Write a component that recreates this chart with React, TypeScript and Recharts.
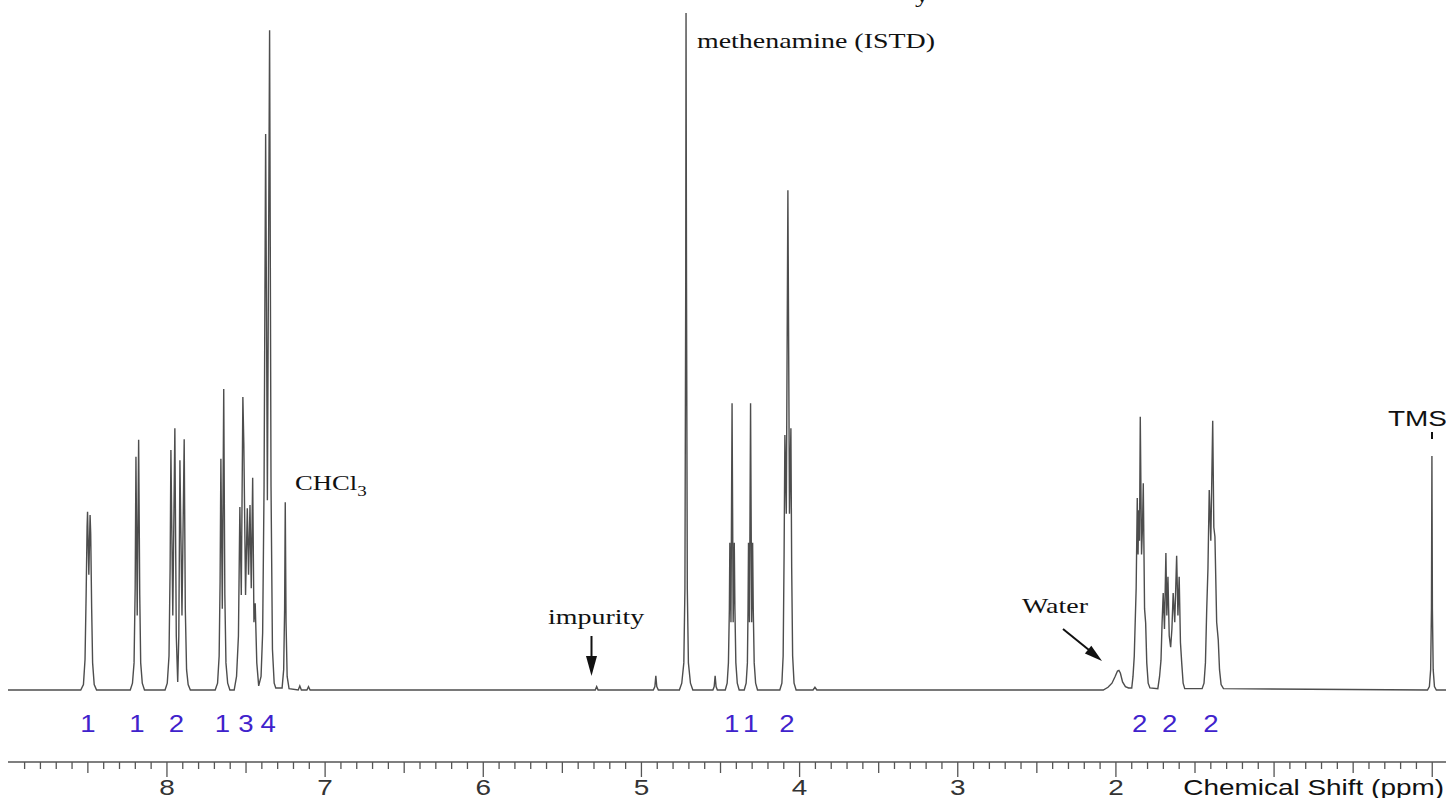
import React from 'react';
import { ComposedChart, Line, Scatter, XAxis, YAxis } from 'recharts';

type Pt = [number, number];

// ---- spectrum points [ppm, intensity] ----
const baselineStart: Pt[] = [[9.005, 0], [8.62, 0]];

const peak850: Pt[] = [
  [8.545, 0], [8.528, 0.8], [8.518, 4.5], [8.511, 14], [8.505, 24], [8.502, 26.3],
  [8.494, 17], [8.486, 25.8], [8.482, 23], [8.476, 12], [8.47, 4], [8.46, 0.8], [8.445, 0],
];

const peak819: Pt[] = [
  [8.232, 0], [8.218, 1], [8.208, 4], [8.201, 15], [8.196, 34.4], [8.188, 11],
  [8.179, 36.9], [8.172, 14], [8.166, 4], [8.156, 1], [8.142, 0],
];

const peak794: Pt[] = [
  [8.012, 0], [7.998, 1], [7.987, 5], [7.98, 18], [7.975, 35.4], [7.963, 11],
  [7.95, 38.6], [7.941, 8], [7.932, 1.2], [7.925, 8], [7.918, 33.9], [7.905, 11],
  [7.891, 37.0], [7.884, 12], [7.876, 3], [7.866, 0.8], [7.852, 0],
];

const peak765: Pt[] = [
  [7.695, 0], [7.68, 1], [7.67, 5], [7.664, 16], [7.659, 34.1], [7.65, 12],
  [7.641, 44.4], [7.634, 14], [7.627, 4], [7.616, 1], [7.602, 0],
];

const peak750: Pt[] = [
  [7.575, 0], [7.56, 2], [7.548, 8], [7.539, 27.0], [7.53, 14], [7.52, 43.2],
  [7.514, 36.4], [7.503, 14], [7.492, 26.8], [7.484, 17], [7.475, 27.3], [7.467, 15],
  [7.458, 31.3], [7.45, 10], [7.442, 12.8], [7.432, 4], [7.42, 0.6],
];

const peak736: Pt[] = [
  [7.405, 2], [7.395, 8.4], [7.386, 30], [7.376, 82.0], [7.365, 28], [7.351, 97.3],
  [7.342, 30], [7.333, 6], [7.322, 1], [7.312, 0.3],
];

const peakChcl3: Pt[] = [
  [7.272, 0.3], [7.262, 3], [7.256, 12], [7.252, 27.7], [7.247, 10], [7.24, 2], [7.228, 0.2],
];

const minorAromatic: Pt[] = [
  [7.17, 0], [7.16, 0.6], [7.15, 0], [7.115, 0], [7.105, 0.5], [7.095, 0],
];

const impurity: Pt[] = [[5.292, 0], [5.283, 0.5], [5.274, 0]];

const peakMethenamine: Pt[] = [
  [4.925, 0], [4.915, 0.5], [4.909, 2.1], [4.903, 0.5], [4.893, 0],
  [4.76, 0], [4.745, 1], [4.732, 4], [4.725, 15], [4.72, 60], [4.718, 99.85],
  [4.715, 60], [4.71, 15], [4.703, 4], [4.69, 1], [4.675, 0],
  [4.548, 0], [4.54, 0.5], [4.534, 2.1], [4.528, 0.5], [4.52, 0],
];

const peak443: Pt[] = [
  [4.47, 0], [4.458, 1], [4.45, 4], [4.444, 12], [4.441, 21.7], [4.434, 10],
  [4.427, 42.3], [4.42, 10], [4.413, 21.7], [4.409, 12], [4.403, 4], [4.394, 1], [4.382, 0],
];

const peak431: Pt[] = [
  [4.35, 0], [4.338, 1], [4.33, 4], [4.326, 12], [4.323, 21.7], [4.317, 10],
  [4.31, 42.3], [4.303, 10], [4.297, 21.7], [4.293, 12], [4.287, 4], [4.278, 1], [4.266, 0],
];

const peak408: Pt[] = [
  [4.125, 0], [4.112, 1], [4.104, 5], [4.098, 20], [4.093, 37.6], [4.084, 26],
  [4.074, 73.7], [4.064, 26], [4.055, 38.6], [4.05, 18], [4.044, 5], [4.035, 1], [4.022, 0],
  [3.915, 0], [3.903, 0.4], [3.891, 0],
];

const peakWater: Pt[] = [
  [2.08, 0], [2.05, 0.4], [2.025, 1.0], [2.005, 2.0], [1.99, 2.8], [1.981, 2.9],
  [1.972, 2.5], [1.958, 1.2], [1.94, 0.5], [1.92, 0.3],
];

const peak185: Pt[] = [
  [1.9, 0.3], [1.892, 2], [1.884, 5], [1.88, 8.4], [1.872, 15], [1.865, 28.3],
  [1.86, 20], [1.856, 26.5], [1.851, 22], [1.846, 40.3], [1.838, 20], [1.832, 24],
  [1.827, 30.5], [1.819, 12], [1.812, 9.9], [1.805, 4], [1.796, 1], [1.785, 0.3],
];

const peak166: Pt[] = [
  [1.735, 0.2], [1.724, 2], [1.715, 4.4], [1.708, 10], [1.701, 14.3], [1.693, 9],
  [1.684, 20.2], [1.678, 11], [1.671, 16.7], [1.663, 8], [1.654, 6.3], [1.646, 9],
  [1.638, 14.3], [1.628, 10], [1.616, 19.8], [1.608, 11], [1.6, 16.7], [1.592, 7],
  [1.584, 4.0], [1.575, 1], [1.565, 0.2],
];

const peak140: Pt[] = [
  [1.455, 0.2], [1.443, 1], [1.434, 4], [1.426, 11.8], [1.418, 18], [1.41, 29.5],
  [1.4, 22], [1.388, 39.7], [1.381, 24], [1.374, 22.6], [1.363, 10], [1.353, 7.4],
  [1.345, 3], [1.335, 0.8], [1.32, 0.2],
];

const peakTms: Pt[] = [
  [0.03, 0], [0.018, 0.5], [0.01, 3], [0.005, 12], [0.002, 34.5], [-0.001, 12],
  [-0.006, 3], [-0.014, 0.5], [-0.026, 0],
];

const baselineEnd: Pt[] = [[-0.087, 0]];

// ---- integration labels ----
const integrationPpm = [8.5, 8.19, 7.94, 7.65, 7.5, 7.36, 4.43, 4.31, 4.08, 1.85, 1.66, 1.4];
const integrationValues = ['1', '1', '2', '1', '3', '4', '1', '1', '2', '2', '2', '2'];

// ---- axis tick labels ----
const majorLabels = [2, 3, 4, 5, 6, 7, 8];
const tickValues = Array.from({ length: 90 }, (_, k) => Math.round(k) / 10);

const spectrum = [
  ...baselineStart, ...peak850, ...peak819, ...peak794, ...peak765, ...peak750,
  ...peak736, ...peakChcl3, ...minorAromatic, ...impurity, ...peakMethenamine,
  ...peak443, ...peak431, ...peak408, ...peakWater, ...peak185, ...peak166,
  ...peak140, ...peakTms, ...baselineEnd,
]
  .map(([ppm, i]) => ({ ppm, i }))
  .sort((a, b) => b.ppm - a.ppm);

const integrations = integrationPpm.map((ppm, k) => ({ ppm, y: -6.2, label: integrationValues[k] }));

const SANS = '"Liberation Sans", Arial, Helvetica, sans-serif';
const SERIF = '"Liberation Serif", "Times New Roman", Times, serif';
const SX = 1.27;

const AxisTick = (props: any) => {
  const { x, y, payload } = props;
  const tenth = Math.round(payload.value * 10);
  const isMajor = tenth % 10 === 0;
  const isHalf = tenth % 5 === 0;
  const len = isMajor ? 15 : isHalf ? 11 : 7;
  const v = tenth / 10;
  const showLabel = isMajor && majorLabels.includes(v);
  return (
    <g>
      <line x1={x} x2={x} y1={y} y2={y + len} stroke="#555" strokeWidth={1.3} />
      {showLabel && (
        <g transform={`translate(${x},${y + 33}) scale(${SX},1)`}>
          <text x={0} y={0} textAnchor="middle" fontFamily={SANS} fontSize={22} fill="#333">
            {v}
          </text>
        </g>
      )}
    </g>
  );
};

const IntegrationMark = (p: any) => (
  <g transform={`translate(${p.cx},${p.cy}) scale(1.2,1)`}>
    <text x={0} y={0} textAnchor="middle" fontFamily={SANS} fontSize={23} fill="#3f22cc">
      {p.payload.label}
    </text>
  </g>
);

const Label = ({ x, y, children, font, size, anchor = 'start' }: any) => (
  <g transform={`translate(${x},${y}) scale(${SX},1)`}>
    <text x={0} y={0} textAnchor={anchor} fontFamily={font} fontSize={size} fill="#111">
      {children}
    </text>
  </g>
);

export default function App() {
  return (
    <div style={{ position: 'absolute', left: 0, top: 0, width: 1446, height: 798, background: '#fff', overflow: 'hidden' }}>
      <ComposedChart width={1446} height={798} margin={{ top: 12, right: 0, bottom: 0, left: 8 }}>
        <XAxis
          dataKey="ppm"
          type="number"
          domain={[-0.087, 9.005]}
          reversed
          allowDataOverflow
          ticks={tickValues}
          interval={0}
          height={36}
          tickSize={0}
          tickMargin={0}
          tickLine={false}
          axisLine={{ stroke: '#555', strokeWidth: 1.6 }}
          tick={<AxisTick />}
        />
        <YAxis type="number" domain={[-10.62, 100]} allowDataOverflow hide />
        <Line
          data={spectrum}
          dataKey="i"
          type="linear"
          stroke="#4d4d4d"
          strokeWidth={1.4}
          dot={false}
          activeDot={false}
          isAnimationActive={false}
        />
        <Scatter data={integrations} dataKey="y" shape={<IntegrationMark />} isAnimationActive={false} />
      </ComposedChart>
      <svg
        width={1446}
        height={798}
        style={{ position: 'absolute', left: 0, top: 0, pointerEvents: 'none' }}
      >
        <Label x={915} y={2} font={SERIF} size={22}>y</Label>
        <Label x={697} y={48} font={SERIF} size={22}>methenamine (ISTD)</Label>
        <g transform={`translate(295,490) scale(${SX},1)`}>
          <text x={0} y={0} fontFamily={SERIF} fontSize={21} fill="#111">
            CHCl<tspan fontSize={15} dy={6}>3</tspan>
          </text>
        </g>
        <Label x={548} y={624} font={SERIF} size={22}>impurity</Label>
        <line x1={591.5} y1={636} x2={591.5} y2={660} stroke="#111" strokeWidth={2} />
        <polygon points="586,656 597,656 591.5,676" fill="#111" />
        <Label x={1022} y={613} font={SERIF} size={22}>Water</Label>
        <line x1={1063} y1={629} x2={1089} y2={650} stroke="#111" strokeWidth={2} />
        <polygon points="1084.9,653.5 1091.3,645.7 1102,661" fill="#111" />
        <Label x={1388} y={426} font={SANS} size={22}>TMS</Label>
        <line x1={1432} y1={432} x2={1432} y2={439} stroke="#111" strokeWidth={2} />
        <Label x={1444} y={795} font={SANS} size={22} anchor="end">Chemical Shift (ppm)</Label>
      </svg>
    </div>
  );
}
